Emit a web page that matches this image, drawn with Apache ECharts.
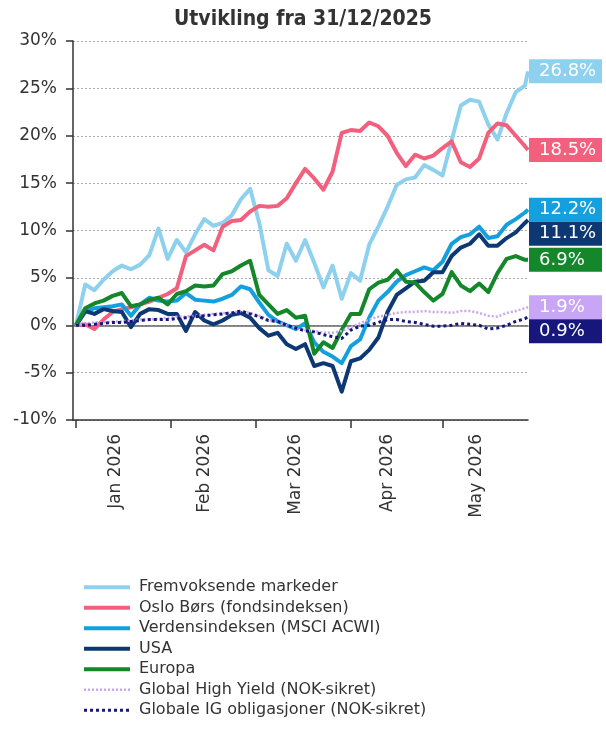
<!DOCTYPE html>
<html>
<head>
<meta charset="utf-8">
<script src="https://cdn.jsdelivr.net/npm/echarts@6/dist/echarts.min.js"></script>
<style>
  html, body { margin: 0; padding: 0; background: #fff; }
  #main { width: 606px; height: 734px; }
</style>
</head>
<body>
<div id="main"></div>
<script>
// days after 31/12/2025
var days = [1,4,7,10,13,16,19,22,25,28,31,34,37,40,43,46,49,52,55,58,61,64,67,70,73,76,79,82,85,88,91,94,97,100,103,106,109,112,115,118,121,124,127,130,133,136,139,142,145,148,149];

var fremvoksende = [0,4.3,3.7,4.8,5.7,6.3,5.9,6.4,7.4,10.2,7.0,9.0,7.7,9.6,11.2,10.5,10.8,11.6,13.3,14.4,10.8,5.8,5.2,8.6,6.8,9.0,6.6,4.0,6.3,2.8,5.5,4.7,8.5,10.4,12.5,14.8,15.4,15.6,16.9,16.4,15.8,19.5,23.2,23.8,23.6,21.2,19.6,22.4,24.6,25.3,26.8];
var osloBors = [0,0.1,-0.4,0.6,1.4,1.7,1.9,2.2,2.5,2.9,3.3,3.9,7.3,7.9,8.5,7.9,10.4,11.0,11.1,12.0,12.6,12.5,12.6,13.4,15.0,16.5,15.5,14.3,16.2,20.3,20.6,20.5,21.4,21.0,20.0,18.2,16.8,18.0,17.6,17.9,18.7,19.4,17.2,16.7,17.6,20.3,21.3,21.1,20.0,18.9,18.5];
var verden = [0,1.4,1.8,1.9,2.0,2.2,1.0,2.2,2.9,2.6,2.5,2.6,3.4,2.7,2.6,2.5,2.8,3.2,4.1,3.8,2.4,1.1,0.4,0.0,-0.4,0.2,-1.8,-2.8,-3.3,-4.0,-2.2,-1.5,0.8,2.6,3.5,4.6,5.3,5.7,6.1,5.8,6.7,8.6,9.3,9.6,10.4,9.2,9.4,10.6,11.2,11.9,12.2];
var usa = [0,1.5,1.2,1.7,1.5,1.4,-0.2,1.2,1.7,1.6,1.2,1.2,-0.6,1.4,0.5,0.1,0.5,1.1,1.3,0.8,-0.3,-1.1,-0.8,-2.0,-2.5,-2.0,-4.3,-4.0,-4.3,-7.0,-3.8,-3.5,-2.6,-1.3,1.4,3.2,3.9,4.6,4.7,5.6,5.6,7.3,8.2,8.6,9.6,8.4,8.4,9.2,9.8,10.8,11.1];
var europa = [0,1.8,2.3,2.6,3.1,3.4,2.0,2.2,2.7,2.9,2.2,3.3,3.6,4.2,4.1,4.2,5.4,5.7,6.3,6.8,3.2,2.2,1.2,1.6,0.8,1.0,-3.0,-1.8,-2.4,-0.5,1.2,1.2,3.8,4.5,4.8,5.8,4.6,4.5,3.5,2.6,3.3,5.6,4.2,3.6,4.4,3.5,5.5,7.0,7.3,6.9,6.9];
var highYield = [0,0.2,0.3,0.3,0.4,0.4,0.5,0.6,0.6,0.7,0.8,0.9,0.9,1.0,1.1,1.2,1.3,1.3,1.5,1.3,1.0,0.6,0.3,0.0,-0.3,-0.5,-0.6,-0.8,-0.8,-0.6,-0.2,0.2,0.6,0.9,1.1,1.3,1.4,1.4,1.5,1.4,1.4,1.3,1.5,1.5,1.3,1.0,0.9,1.3,1.5,1.8,1.9];
var igObl = [0,0.0,0.1,0.2,0.3,0.3,0.4,0.5,0.6,0.6,0.6,0.7,0.8,0.9,1.0,1.1,1.2,1.3,1.5,1.2,0.9,0.5,0.4,0.0,-0.3,-0.6,-0.7,-1.0,-1.2,-1.4,-0.5,-0.1,0.0,0.3,0.6,0.6,0.4,0.3,0.1,-0.1,-0.1,0.0,0.2,0.1,0.0,-0.4,-0.3,0.0,0.4,0.7,0.9];

var monthTickDays = [1, 32, 60, 91, 121];
var monthLabelDays = [14, 43, 73, 103, 132];
var monthLabels = ['Jan 2026', 'Feb 2026', 'Mar 2026', 'Apr 2026', 'May 2026'];

var FONT = 'DejaVu Sans';

var seriesDefs = [
  { name: 'Fremvoksende markeder', values: fremvoksende, color: '#8ed1ee', width: 4 },
  { name: 'Oslo Børs (fondsindeksen)', values: osloBors, color: '#f2607e', width: 4 },
  { name: 'Verdensindeksen (MSCI ACWI)', values: verden, color: '#14a0de', width: 4 },
  { name: 'USA', values: usa, color: '#0d3874', width: 4 },
  { name: 'Europa', values: europa, color: '#13872a', width: 4 },
  { name: 'Global High Yield (NOK-sikret)', values: highYield, color: '#c9a6f5', width: 2.5, dash: [2, 2] },
  { name: 'Globale IG obligasjoner (NOK-sikret)', values: igObl, color: '#16167c', width: 3, dash: [3, 3] }
];

var chart = echarts.init(document.getElementById('main'));

var series = seriesDefs.map(function (s) {
  return {
    name: s.name,
    type: 'line',
    symbol: 'none',
    smooth: false,
    data: days.map(function (d, i) { return [d, s.values[i]]; }),
    lineStyle: { color: s.color, width: s.width, type: s.dash || 'solid', cap: 'butt', join: 'round' },
    itemStyle: { color: s.color },
    endLabel: {
      show: true,
      formatter: function (p) { return p.value[1].toFixed(1) + '%'; },
      color: '#fff',
      backgroundColor: s.color,
      fontFamily: FONT,
      fontSize: 18,
      lineHeight: 21,
      width: 61,
      align: 'left',
      padding: [2, 2, 1, 10],
      distance: 1
    },
    labelLayout: { moveOverlap: 'shiftY' },
    emphasis: { disabled: true }
  };
});

var option = {
  animation: false,
  title: {
    text: 'Utvikling fra 31/12/2025',
    left: 'center',
    top: 4,
    textStyle: { fontFamily: 'DejaVu Sans Condensed', fontWeight: 'bold', fontSize: 21, color: '#333' }
  },
  grid: { left: 73, right: 78, top: 41, bottom: 314 },
  legend: {
    orient: 'vertical',
    left: 82,
    top: 577,
    padding: 0,
    itemWidth: 46,
    itemHeight: 14,
    itemGap: 0,
    textStyle: { fontFamily: FONT, fontSize: 16, color: '#333', lineHeight: 20.5, padding: [0, 0, 0, 4] },
    data: seriesDefs.map(function (s) {
      return {
        name: s.name,
        itemStyle: { opacity: 0 },
        lineStyle: { width: s.dash ? s.width : 4, type: s.dash || 'solid', color: s.color }
      };
    })
  },
  xAxis: [{
    type: 'value',
    min: 0,
    max: 149,
    position: 'bottom',
    axisLine: { show: true, onZero: false, lineStyle: { color: '#333', width: 1.5 } },
    axisTick: { show: true, customValues: monthTickDays, length: 8, lineStyle: { color: '#333', width: 1.5 } },
    axisLabel: {
      customValues: monthLabelDays,
      rotate: 90,
      margin: 14,
      fontFamily: FONT,
      fontSize: 17,
      color: '#333',
      formatter: function (v) { return monthLabels[monthLabelDays.indexOf(v)]; }
    },
    splitLine: { show: false }
  }, {
    type: 'value',
    min: 0,
    max: 149,
    position: 'top',
    axisLine: { show: true, onZero: true, lineStyle: { color: '#666', width: 1.5 } },
    axisTick: { show: false },
    axisLabel: { show: false },
    splitLine: { show: false }
  }],
  yAxis: {
    type: 'value',
    min: -10,
    max: 30,
    interval: 5,
    axisLine: { show: true, onZero: false, lineStyle: { color: '#333', width: 1.5 } },
    axisTick: { show: true, length: 7, lineStyle: { color: '#333', width: 1.5 } },
    axisLabel: { formatter: '{value}%', fontFamily: FONT, fontSize: 17, color: '#333', margin: 16 },
    splitLine: { show: true, lineStyle: { type: [2, 2], color: '#aaa', width: 1 } }
  },
  series: series
};

chart.setOption(option);
</script>
</body>
</html>
